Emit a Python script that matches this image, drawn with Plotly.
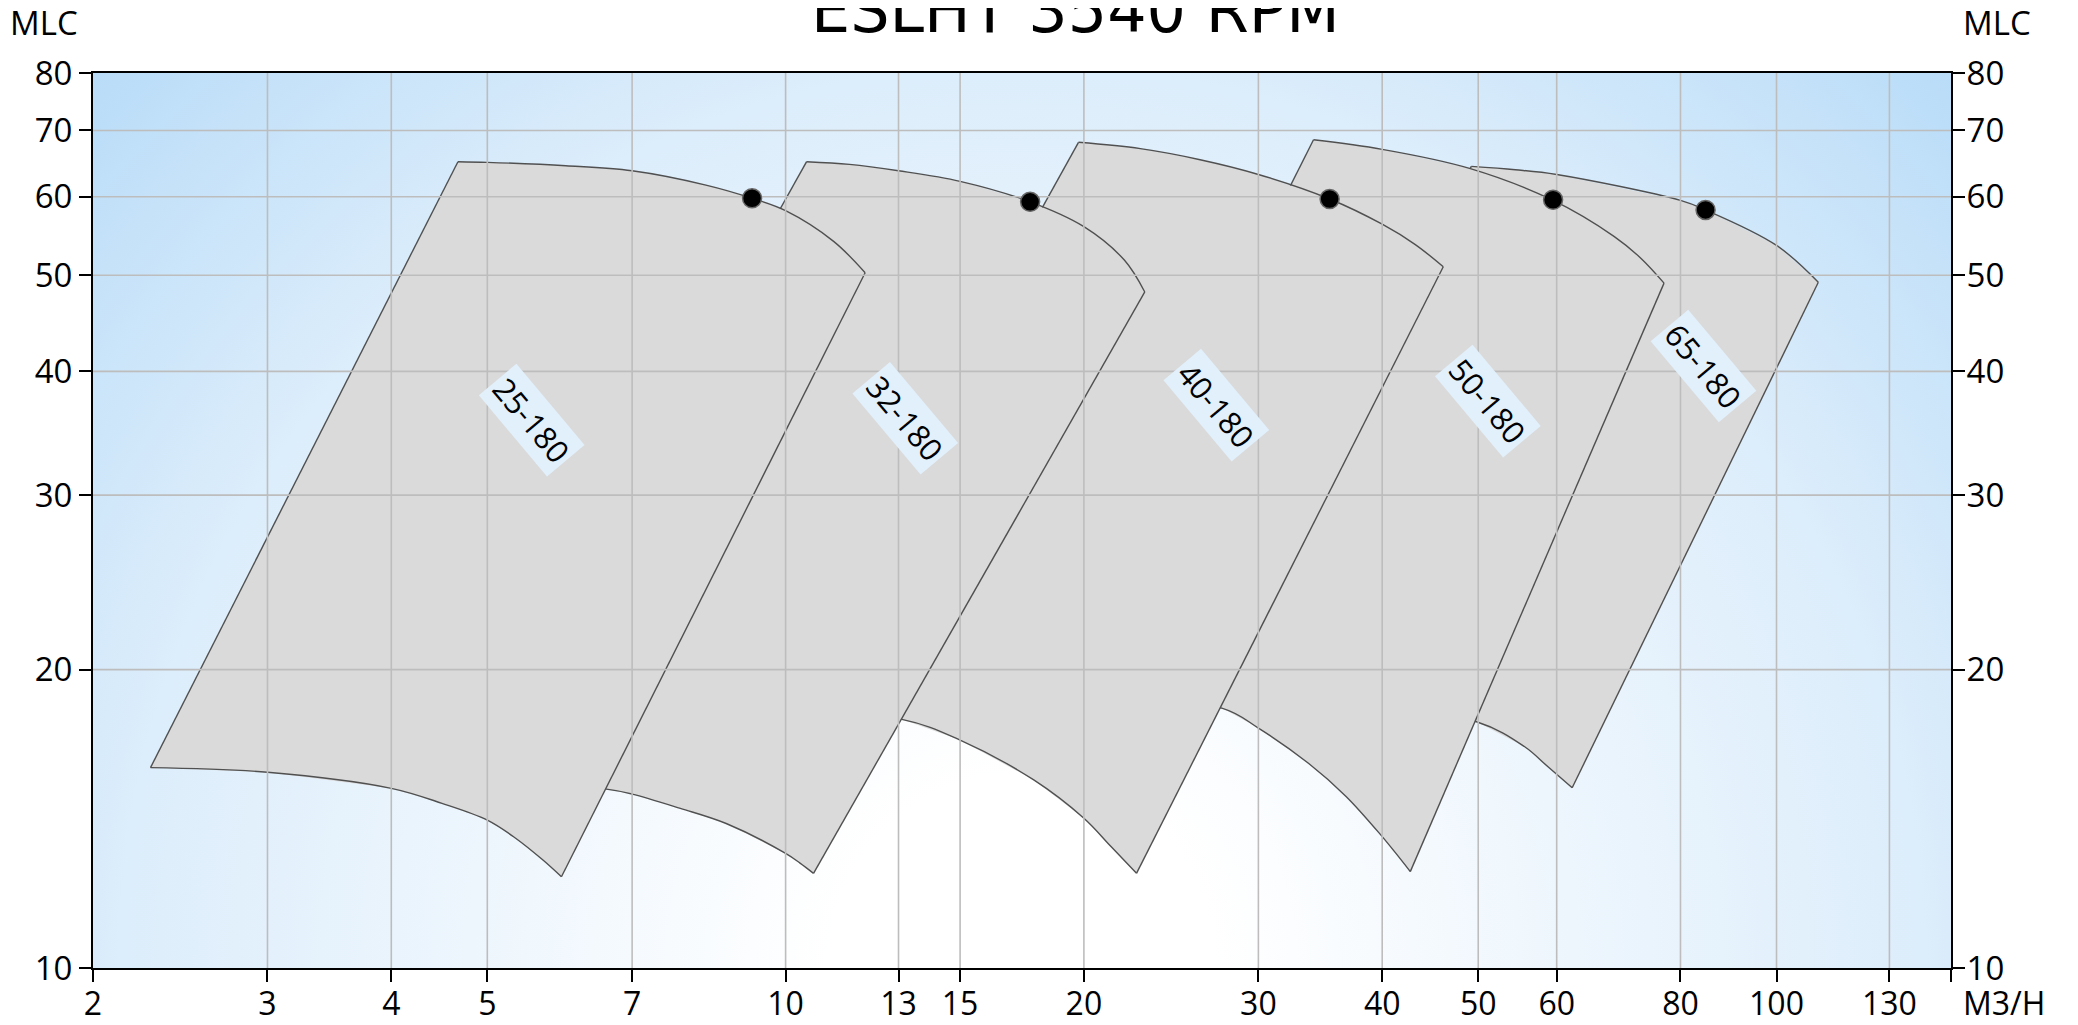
import base64
import numpy as np
import plotly.graph_objects as go

# ---------------- data (flow m3/h, head mlc) ----------------
models = ["25-180", "32-180", "40-180", "50-180", "65-180"]

top_q_25 = [4.67, 5.0, 6.0, 7.0, 8.31, 9.25, 10.0, 11.18, 12.03]
top_h_25 = [65.1, 65.0, 64.5, 63.75, 61.66, 59.8, 58.1, 54.1, 50.3]
bot_q_25 = [5.94, 5.69, 5.34, 5.0, 4.5, 4.0, 3.0, 2.286]
bot_h_25 = [12.36, 12.85, 13.52, 14.1, 14.66, 15.18, 15.76, 15.93]

top_q_32 = [10.5, 11.6, 13.0, 15.0, 17.65, 20.0, 21.97, 23.04]
top_h_32 = [65.1, 64.7, 63.75, 62.2, 59.3, 55.98, 51.8, 48.1]
bot_q_32 = [10.67, 10.34, 10.0, 8.71, 7.83, 7.0, 6.57, 4.7]
bot_h_32 = [12.46, 12.76, 13.05, 13.99, 14.49, 14.98, 15.16, 15.5]

top_q_40 = [19.75, 22.8, 26.2, 30.0, 35.4, 40.0, 43.2, 46.1]
top_h_40 = [68.1, 67.1, 65.4, 63.2, 59.7, 56.3, 53.7, 51.0]
bot_q_40 = [22.6, 21.3, 20.0, 17.8, 15.0, 13.1, 9.5]
bot_h_40 = [12.46, 13.26, 14.16, 15.48, 16.98, 17.82, 18.2]

top_q_50 = [34.1, 40.0, 49.0, 59.3, 68.6, 73.0, 77.0]
top_h_50 = [68.5, 67.0, 64.1, 59.6, 54.7, 52.0, 49.1]
bot_q_50 = [42.7, 41.3, 40.0, 36.8, 33.7, 30.0, 27.6, 17.9]
bot_h_50 = [12.51, 13.05, 13.57, 14.89, 16.09, 17.46, 18.28, 19.0]

top_q_65 = [49.2, 54.5, 60.0, 80.0, 84.8, 100.0, 110.2]
top_h_65 = [64.4, 63.9, 63.2, 59.5, 58.2, 53.6, 49.2]
bot_q_65 = [62.2, 58.8, 55.7, 49.8, 28.0]
bot_h_65 = [15.2, 15.96, 16.72, 17.72, 19.3]

bep_q = [9.25, 17.65, 35.4, 59.5, 84.8]
bep_h = [59.8, 59.3, 59.7, 59.6, 58.2]

label_q = [5.54, 13.2, 27.2, 51.1, 84.4]
label_h = [35.7, 35.9, 37.0, 37.3, 40.5]

x_ticks = [2, 3, 4, 5, 7, 10, 13, 15, 20, 30, 40, 50, 60, 80, 100, 130]
x_ticktext = ["2", "3", "4", "5", "7", "10", "13", "15", "20", "30", "40", "50",
              "60", "80", "100", "130"]
x_end_tick = [150]
y_ticks = [10, 20, 30, 40, 50, 60, 70, 80]
x_range = [2, 150]
y_range = [10, 80]

envelopes = {
    "25-180": (top_q_25, top_h_25, bot_q_25, bot_h_25),
    "32-180": (top_q_32, top_h_32, bot_q_32, bot_h_32),
    "40-180": (top_q_40, top_h_40, bot_q_40, bot_h_40),
    "50-180": (top_q_50, top_h_50, bot_q_50, bot_h_50),
    "65-180": (top_q_65, top_h_65, bot_q_65, bot_h_65),
}

# ---------------- figure ----------------
# page body keeps the browser's 8px margin; the figure is offset by it
BODY = 8
W, H = 2078 - BODY, 1025 - BODY
PW, PH = 1858, 895
ML, MT = 93 - BODY, 73 - BODY
MR, MB = W - ML - PW, H - MT - PH

fig = go.Figure()

OUT = dict(color="#505050", width=1.4)

# envelopes: right-most first so the left ones lie on top
for name in reversed(models):
    tq, th, bq, bh = envelopes[name]
    xs = list(tq) + list(bq) + [tq[0]]
    ys = list(th) + list(bh) + [th[0]]
    fig.add_trace(go.Scatter(
        x=xs, y=ys, mode="lines", fill="toself",
        fillcolor="#dadada", line=dict(width=0, color="rgba(0,0,0,0)"),
        hoverinfo="skip", showlegend=False, name=name))
    # outline: smooth head curves, straight side edges
    fig.add_trace(go.Scatter(x=tq, y=th, mode="lines",
                             line=dict(**OUT, shape="spline", smoothing=1.0),
                             hoverinfo="skip", showlegend=False))
    fig.add_trace(go.Scatter(x=bq, y=bh, mode="lines",
                             line=dict(**OUT, shape="spline", smoothing=1.0),
                             hoverinfo="skip", showlegend=False))
    fig.add_trace(go.Scatter(x=[tq[-1], bq[0], None, bq[-1], tq[0]],
                             y=[th[-1], bh[0], None, bh[-1], th[0]],
                             mode="lines", line=OUT,
                             hoverinfo="skip", showlegend=False))

# grid lines drawn over the envelope fills
gx, gy = [], []
for v in x_ticks[1:]:
    gx += [v, v, None]
    gy += [y_range[0], y_range[1], None]
for v in y_ticks[1:-1]:
    gx += [x_range[0], x_range[1], None]
    gy += [v, v, None]
fig.add_trace(go.Scatter(x=gx, y=gy, mode="lines",
                         line=dict(color="#bdbdbd", width=1.6),
                         hoverinfo="skip", showlegend=False))

# best efficiency points (on overlay axis -> drawn above grid)
fig.add_trace(go.Scatter(x=bep_q, y=bep_h, mode="markers", yaxis="y2",
                         marker=dict(size=19, color="#000000",
                                     line=dict(color="#666666", width=1.5)),
                         hoverinfo="skip", showlegend=False))

# model labels
for name, q, h in zip(models, label_q, label_h):
    fig.add_annotation(x=np.log10(q), y=np.log10(h), xref="x", yref="y",
                       text=name, showarrow=False, textangle=50,
                       font=dict(family="Open Sans", size=31, color="#000000"),
                       bgcolor="rgb(226,240,252)", borderpad=3)

tick_font = dict(family="Open Sans", size=33, color="#000000")
xtick_font = dict(family="Open Sans", size=32, color="#000000")

# axis unit labels and title
fig.add_annotation(x=-49 / PW, y=1 + 50 / PH, xref="paper", yref="paper",
                   text="MLC", showarrow=False, font=tick_font,
                   xanchor="center", yanchor="middle", borderpad=0)
fig.add_annotation(x=1 + 46 / PW, y=1 + 50 / PH, xref="paper", yref="paper",
                   text="MLC", showarrow=False, font=tick_font,
                   xanchor="center", yanchor="middle", borderpad=0)
fig.add_annotation(x=1 + 53 / PW, y=-34 / PH, xref="paper", yref="paper",
                   text="M3/H", showarrow=False, font=xtick_font,
                   xanchor="center", yanchor="middle", borderpad=0)
fig.add_annotation(x=(1075 - 93) / PW, y=1 + 24 / PH, xref="paper", yref="paper",
                   text="ESLHT 3540 RPM", showarrow=False,
                   font=dict(family="DejaVu Sans", size=62, color="#000000"),
                   xanchor="center", yanchor="bottom")

# radial gradient background of the plot area
svg = (f'<svg xmlns="http://www.w3.org/2000/svg" width="{PW}" height="{PH}" '
       f'viewBox="0 0 {PW} {PH}" preserveAspectRatio="none"><defs>'
       f'<radialGradient id="g" gradientUnits="userSpaceOnUse" cx="{PW/2}" cy="{PH}" '
       f'r="{(PW**2/4 + PH**2) ** 0.5:.0f}">'
       '<stop offset="0" stop-color="#ffffff"/>'
       '<stop offset="0.15" stop-color="#ffffff"/>'
       '<stop offset="0.7" stop-color="rgb(220,237,251)"/>'
       '<stop offset="1" stop-color="rgb(185,220,248)"/>'
       '</radialGradient></defs>'
       f'<rect width="{PW}" height="{PH}" fill="url(#g)"/></svg>')
src = "data:image/svg+xml;base64," + base64.b64encode(svg.encode()).decode()
fig.add_layout_image(dict(source=src, xref="paper", yref="paper", x=0, y=1,
                          sizex=1, sizey=1, sizing="stretch", layer="below",
                          xanchor="left", yanchor="top"))

axis_common = dict(type="log", showgrid=False, zeroline=False, automargin=False,
                   ticks="outside", ticklen=12, tickwidth=1.5, tickcolor="#000000",
                   showline=True, linecolor="#000000", linewidth=2)

fig.update_layout(
    width=W, height=H,
    margin=dict(l=ML, r=MR, t=MT, b=MB, autoexpand=False),
    paper_bgcolor="#ffffff", plot_bgcolor="rgba(0,0,0,0)",
    showlegend=False,
    xaxis=dict(**axis_common, range=[np.log10(x_range[0]), np.log10(x_range[1])],
               tickvals=x_ticks, ticktext=x_ticktext, mirror=True,
               tickfont=xtick_font, ticklabelstandoff=-5,
               minor=dict(tickvals=x_end_tick, ticks="outside", ticklen=12,
                          tickwidth=1.5, tickcolor="#000000", showgrid=False)),
    yaxis=dict(**axis_common, range=[np.log10(y_range[0]), np.log10(y_range[1])],
               tickvals=y_ticks, ticktext=[str(v) for v in y_ticks], mirror=False,
               tickfont=tick_font, ticklabelstandoff=0),
    yaxis2=dict(**axis_common, range=[np.log10(y_range[0]), np.log10(y_range[1])],
                tickvals=y_ticks, ticktext=[str(v) for v in y_ticks],
                tickfont=tick_font, overlaying="y", side="right",
                ticklabelstandoff=-5),
)

fig.write_html("out.html")
